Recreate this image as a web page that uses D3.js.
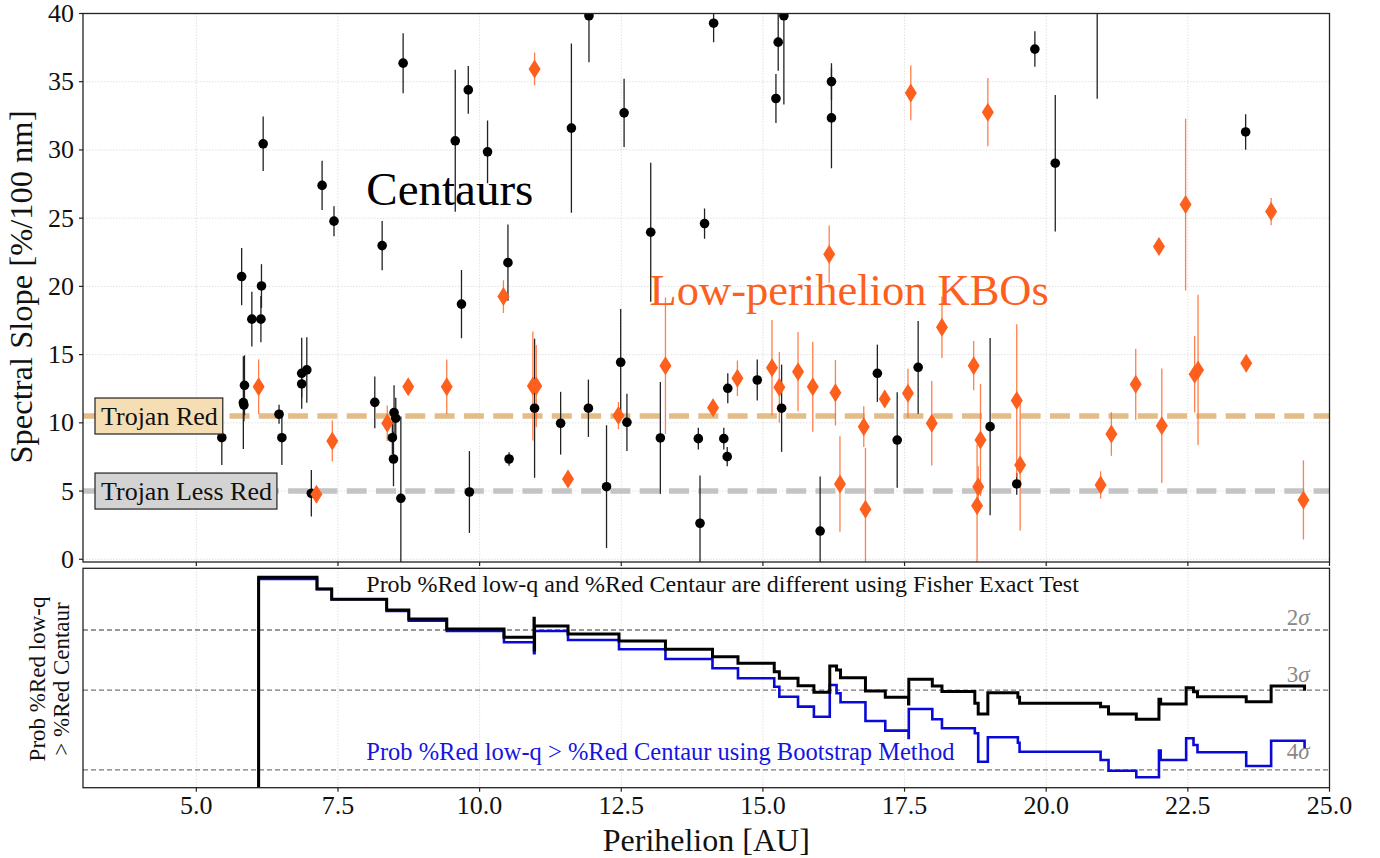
<!DOCTYPE html>
<meta charset="UTF-8">
<style>
body { margin: 0; background: #fff; }
text { font-family: "Liberation Serif", "Times New Roman", serif; }
.grid line { stroke: #d9d9d9; stroke-width: 0.8; stroke-dasharray: 1.5,1.5; }
.frame { fill: none; stroke: #222; stroke-width: 1.3; }
</style>
<body>
<script src="https://d3js.org/d3.v7.min.js"></script>
<script>
// centaurs: perihelion, spectral slope, error
var centaurQ = [5.45, 5.80, 5.85, 5.83, 5.84, 5.98, 6.14, 6.15, 6.18, 6.46, 6.51, 6.86, 6.95, 6.86, 7.03, 7.22, 7.43,
  8.15, 8.28, 8.49, 8.52, 8.46, 8.48, 8.61, 8.65, 9.57, 9.68, 9.80, 9.82, 10.14, 10.50, 10.52, 10.97, 11.43, 11.62,
  11.92, 11.93, 12.24, 12.49, 12.55, 12.60, 13.02, 13.19, 13.86, 13.89, 13.97, 14.13, 14.31, 14.37, 14.38, 14.90,
  15.23, 15.27, 15.33, 15.37, 16.01, 16.21, 16.21, 17.02, 17.37, 17.74, 19.01, 19.48, 19.80, 20.16, 20.90, 23.52];
var centaurSlope = [8.91, 20.72, 12.75, 11.48, 11.30, 17.6, 17.6, 20.03, 30.45, 10.63, 8.91, 13.63, 13.88, 12.85, 4.84, 27.4, 24.78,
  11.5, 22.99, 10.75, 10.34, 8.91, 7.35, 4.47, 36.36, 30.67, 18.7, 34.4, 4.93, 29.86, 21.74, 7.35, 11.07, 9.97, 31.6,
  11.07, 39.83, 5.32, 14.44, 32.72, 10.04, 23.97, 8.89, 8.84, 2.64, 24.6, 39.29, 8.84, 7.52, 12.53, 13.14,
  33.77, 37.9, 11.07, 39.83, 2.07, 35.01, 32.35, 13.63, 8.74, 14.07, 9.72, 5.52, 37.39, 29.03, 41.5, 31.32];
var centaurErr = [2.0, 2.1, 2.2, 3.4, 1.2, 2.0, 1.7, 1.6, 2.0, 0.7, 2.0, 2.6, 2.4, 1.0, 1.7, 1.8, 1.1,
  1.9, 1.8, 2.0, 1.5, 1.2, 2.0, 6.0, 2.2, 5.2, 2.5, 1.75, 3.0, 2.3, 2.8, 0.5, 5.1, 2.3, 6.2,
  2.1, 3.4, 4.5, 3.9, 2.5, 2.1, 5.1, 4.1, 0.8, 3.5, 1.1, 1.4, 0.8, 0.7, 1.1, 1.5,
  1.8, 2.1, 3.2, 6.5, 4.0, 1.35, 3.7, 2.1, 3.5, 3.4, 6.5, 0.8, 1.3, 5.0, 7.75, 1.3];

// low-perihelion KBOs
var kboQ = [6.10, 7.12, 7.40, 8.37, 8.74, 9.42, 10.42, 10.94, 11.00, 10.97, 11.56, 12.45, 13.28, 14.12, 14.55, 15.16,
  15.29, 15.62, 15.88, 16.17, 16.28, 16.36, 16.78, 16.81, 17.15, 17.56, 17.61, 17.98, 18.16, 18.72, 18.78, 18.80,
  18.84, 18.97, 19.48, 19.54, 20.96, 21.15, 21.58, 21.99, 22.04, 22.46, 22.62, 22.68, 23.53, 23.97, 24.54];
var kboSlope = [12.65, 4.76, 8.67, 9.97, 12.65, 12.65, 19.25, 12.7, 12.7, 35.94, 5.88, 10.53, 14.19, 11.11, 13.27, 14.04,
  12.6, 13.75, 12.65, 22.36, 12.21, 5.52, 9.72, 3.66, 11.75, 12.17, 34.18, 9.97, 17.0, 14.19, 3.93, 5.32,
  8.74, 32.77, 11.63, 6.91, 5.45, 9.18, 12.83, 22.92, 9.79, 26.0, 13.56, 13.88, 14.37, 25.48, 4.35];
var kboErr = [2.0, 0.5, 1.5, 1.3, 0.5, 2.0, 1.2, 4.0, 3.0, 1.2, 0.6, 1.0, 5.0, 0.6, 1.3, 3.5,
  2.6, 2.9, 3.3, 2.1, 2.4, 3.5, 1.5, 4.5, 0.6, 1.8, 2.0, 3.1, 2.25, 1.8, 4.5, 1.5,
  4.1, 2.5, 5.6, 4.8, 1.0, 1.6, 2.6, 0.45, 4.2, 6.3, 2.8, 5.5, 0.6, 1.0, 2.9];

// trojan reference levels
var trojanLevels = [10.5, 5];
var trojanLabels = ["Trojan Red", "Trojan Less Red"];

// cumulative probabilities (step curves)
var fisherQ = [6.1, 6.1, 7.13, 7.39, 8.36, 8.75, 9.42, 10.43, 10.96, 10.965, 10.97, 11.56, 12.46, 13.28, 14.11, 14.56,
  15.2, 15.29, 15.62, 15.9, 16.18, 16.3, 16.37, 16.81, 17.16, 17.57, 17.575, 17.99, 18.16, 18.74, 18.8, 18.97,
  19.5, 19.53, 20.96, 21.1, 21.59, 21.99, 22.02, 22.47, 22.6, 22.67, 23.53, 23.97, 24.56, 24.56];
var fisherP = [1e-6, 0.541, 0.313, 0.1925, 0.1164, 0.0763, 0.0477, 0.0323, 0.0789, 0.0178, 0.0549, 0.0377, 0.0271, 0.01837, 0.01297, 0.00952,
  0.00641, 0.0047, 0.00332, 0.00243, 0.00838, 0.00695, 0.00484, 0.00259, 0.001925, 0.001406, 0.00449, 0.00327, 0.00253, 0.00145, 0.000879, 0.00239,
  0.001925, 0.00145, 0.00124, 0.000879, 0.000685, 0.001753, 0.001406, 0.00302, 0.00251, 0.00198, 0.001567, 0.00327, 0.00327, 0.00263];
var bootQ = [6.1, 6.1, 7.13, 7.39, 8.36, 8.75, 9.42, 10.43, 10.96, 10.97, 11.56, 12.46, 13.28, 14.11, 14.56,
  15.2, 15.29, 15.62, 15.9, 16.18, 16.3, 16.37, 16.81, 17.16, 17.57, 17.575, 17.99, 18.16, 18.74, 18.8, 18.97,
  19.5, 19.53, 20.96, 21.1, 21.59, 21.99, 22.02, 22.47, 22.6, 22.67, 23.53, 23.97, 24.56, 24.56];
var bootP = [1e-6, 0.5, 0.313, 0.1925, 0.111, 0.0705, 0.0434, 0.0255, 0.01522, 0.0434, 0.0284, 0.01837, 0.01164, 0.00752, 0.0047,
  0.00317, 0.00198, 0.00124, 0.000774, 0.00344, 0.00232, 0.00152, 0.000632, 0.000401, 0.000284, 0.001111, 0.000685, 0.000449, 0.000355, 0.0000933, 0.000294,
  0.000228, 0.000149, 0.000101, 0.0000612, 0.0000449, 0.000157, 0.000101, 0.00028, 0.000205, 0.000145, 0.0000762, 0.00025, 0.00025, 0.000175];

var sigmaLabels = ["2\u03c3", "3\u03c3", "4\u03c3"];
var sigmaP = [0.0455, 0.0027, 0.0000633];

var xTicks = [5, 7.5, 10, 12.5, 15, 17.5, 20, 22.5, 25];
var yTicks = [0, 5, 10, 15, 20, 25, 30, 35, 40];
</script>
<script>
var W = 1380, H = 858;
var left = 83, right = 1329.5;
var top1 = 13.5, bot1 = 562;
var top2 = 568.3, bot2 = 787.7;

var x = d3.scaleLinear().domain([3, 25]).range([left, right]);
var y = d3.scaleLinear().domain([-0.2, 40]).range([bot1, top1]);
var y2 = d3.scaleLog().domain([2.75e-5, 0.826]).range([bot2, top2]);

var svg = d3.select("body").append("svg")
    .attr("width", W).attr("height", H);

var defs = svg.append("defs");
defs.append("clipPath").attr("id", "clip1").append("rect")
    .attr("x", left).attr("y", top1).attr("width", right - left).attr("height", bot1 - top1);
defs.append("clipPath").attr("id", "clip2").append("rect")
    .attr("x", left).attr("y", top2).attr("width", right - left).attr("height", bot2 - top2);

// ---------- top panel ----------
var g1 = svg.append("g");

var grid1 = g1.append("g").attr("class", "grid");
grid1.selectAll(".vx").data(xTicks).enter().append("line")
    .attr("x1", d => x(d)).attr("x2", d => x(d)).attr("y1", top1).attr("y2", bot1);
grid1.selectAll(".hy").data(yTicks).enter().append("line")
    .attr("x1", left).attr("x2", right).attr("y1", d => y(d)).attr("y2", d => y(d));

// trojan dashed levels
var trojanColors = ["#e3bc88", "#c4c4c4"];
g1.selectAll(".trojan").data(trojanLevels).enter().append("line")
    .attr("x1", left).attr("x2", right)
    .attr("y1", d => y(d)).attr("y2", d => y(d))
    .attr("stroke", (d, i) => trojanColors[i])
    .attr("stroke-width", 5.5)
    .attr("stroke-dasharray", "20,9.3");

var pts = g1.append("g").attr("clip-path", "url(#clip1)");

var centaurs = centaurQ.map((q, i) => ({q: q, s: centaurSlope[i], e: centaurErr[i]}));
var kbos = kboQ.map((q, i) => ({q: q, s: kboSlope[i], e: kboErr[i]}));

pts.selectAll(".cerr").data(centaurs).enter().append("line")
    .attr("x1", d => x(d.q)).attr("x2", d => x(d.q))
    .attr("y1", d => y(d.s - d.e)).attr("y2", d => y(d.s + d.e))
    .attr("stroke", "#222").attr("stroke-width", 1.3);

pts.selectAll(".kerr").data(kbos).enter().append("line")
    .attr("x1", d => x(d.q)).attr("x2", d => x(d.q))
    .attr("y1", d => y(d.s - d.e)).attr("y2", d => y(d.s + d.e))
    .attr("stroke", "#ff6a2c").attr("stroke-width", 1.3).attr("opacity", 0.85);

pts.selectAll(".cpt").data(centaurs).enter().append("circle")
    .attr("cx", d => x(d.q)).attr("cy", d => y(d.s)).attr("r", 4.8)
    .attr("fill", "#000");

pts.selectAll(".kpt").data(kbos).enter().append("path")
    .attr("transform", d => "translate(" + x(d.q) + "," + y(d.s) + ")")
    .attr("d", "M0,-9.5L6,0L0,9.5L-6,0Z")
    .attr("fill", "#fd5f1d");

// trojan label boxes
var boxFills = ["#f5deb3", "#d3d3d3"];
trojanLevels.forEach(function(lv, i) {
  var lg = g1.append("g");
  var t = lg.append("text")
      .attr("x", 101).attr("y", y(lv) + 9)
      .attr("font-size", 26).attr("fill", "#111")
      .text(trojanLabels[i]);
  var bb = t.node().getBBox();
  lg.insert("rect", "text")
      .attr("x", 95).attr("y", y(lv) - 18)
      .attr("width", bb.width + 11).attr("height", 36)
      .attr("fill", boxFills[i]).attr("stroke", "#222").attr("stroke-width", 1.2);
});

g1.append("text").attr("x", x(8)).attr("y", y(26))
    .attr("font-size", 47).attr("fill", "#000").text("Centaurs");
g1.append("text").attr("x", x(13)).attr("y", y(18.6))
    .attr("font-size", 44.5).attr("fill", "#fd5f1d").text("Low-perihelion KBOs");

// axes of top panel
g1.append("rect").attr("class", "frame")
    .attr("x", left).attr("y", top1).attr("width", right - left).attr("height", bot1 - top1);
g1.selectAll(".ytk").data(yTicks).enter().append("line")
    .attr("x1", left - 4).attr("x2", left).attr("y1", d => y(d)).attr("y2", d => y(d))
    .attr("stroke", "#222").attr("stroke-width", 1.2);
g1.selectAll(".xtk").data(xTicks).enter().append("line")
    .attr("x1", d => x(d)).attr("x2", d => x(d)).attr("y1", bot1).attr("y2", bot1 + 4)
    .attr("stroke", "#222").attr("stroke-width", 1.2);
g1.selectAll(".ylab").data(yTicks).enter().append("text")
    .attr("x", left - 9).attr("y", d => y(d) + 8.5)
    .attr("text-anchor", "end").attr("font-size", 26).attr("fill", "#111")
    .text(d => d);
g1.append("text")
    .attr("transform", "translate(32," + 287 + ") rotate(-90)")
    .attr("text-anchor", "middle").attr("font-size", 32.5).attr("fill", "#111")
    .text("Spectral Slope [%/100 nm]");

// ---------- bottom panel ----------
var g2 = svg.append("g");
var grid2 = g2.append("g").attr("class", "grid");
grid2.selectAll("line").data(xTicks).enter().append("line")
    .attr("x1", d => x(d)).attr("x2", d => x(d)).attr("y1", top2).attr("y2", bot2);

g2.selectAll(".sig").data(sigmaP).enter().append("line")
    .attr("x1", left).attr("x2", right)
    .attr("y1", d => y2(d)).attr("y2", d => y2(d))
    .attr("stroke", "#777").attr("stroke-width", 1.3).attr("stroke-dasharray", "5,3");

var sigDy = [-5, -8, -11];
g2.selectAll(".siglab").data(sigmaP).enter().append("text")
    .attr("x", x(24.65)).attr("y", (d, i) => y2(d) + sigDy[i])
    .attr("text-anchor", "end").attr("font-size", 23).attr("fill", "#888")
    .html((d, i) => sigmaLabels[i].charAt(0) + '<tspan font-style="italic">\u03c3</tspan>');

g2.append("text").attr("x", x(8)).attr("y", y2(0.271))
    .attr("font-size", 24).attr("fill", "#111")
    .text("Prob %Red low-q and %Red Centaur are different using Fisher Exact Test");
g2.append("text").attr("x", x(8)).attr("y", y2(0.000102))
    .attr("font-size", 24.5).attr("fill", "#1515e0")
    .text("Prob %Red low-q > %Red Centaur using Bootstrap Method");

var step = d3.line().curve(d3.curveStepAfter)
    .x(d => x(d[0])).y(d => y2(Math.max(d[1], 1e-7)));
var lines = g2.append("g").attr("clip-path", "url(#clip2)");
lines.append("path")
    .attr("d", step(bootQ.map((q, i) => [q, bootP[i]])))
    .attr("fill", "none").attr("stroke", "#0a0ad8").attr("stroke-width", 2.6);
lines.append("path")
    .attr("d", step(fisherQ.map((q, i) => [q, fisherP[i]])))
    .attr("fill", "none").attr("stroke", "#000").attr("stroke-width", 3);

g2.append("rect").attr("class", "frame")
    .attr("x", left).attr("y", top2).attr("width", right - left).attr("height", bot2 - top2);
g2.selectAll(".xtk").data(xTicks).enter().append("line")
    .attr("x1", d => x(d)).attr("x2", d => x(d)).attr("y1", bot2).attr("y2", bot2 + 4)
    .attr("stroke", "#222").attr("stroke-width", 1.2);
g2.selectAll(".xlab").data(xTicks).enter().append("text")
    .attr("x", d => x(d)).attr("y", 814)
    .attr("text-anchor", "middle").attr("font-size", 26).attr("fill", "#111")
    .text(d => d.toFixed(1));
g2.append("text").attr("x", (left + right) / 2).attr("y", 851)
    .attr("text-anchor", "middle").attr("font-size", 32).attr("fill", "#111")
    .text("Perihelion [AU]");

var yl2 = g2.append("text")
    .attr("transform", "translate(0,679) rotate(-90)")
    .attr("text-anchor", "middle").attr("font-size", 23).attr("fill", "#111");
yl2.append("tspan").attr("x", 0).attr("y", 45).text("Prob %Red low-q");
yl2.append("tspan").attr("x", 0).attr("y", 69).text("> %Red Centaur");
</script>
</body>
